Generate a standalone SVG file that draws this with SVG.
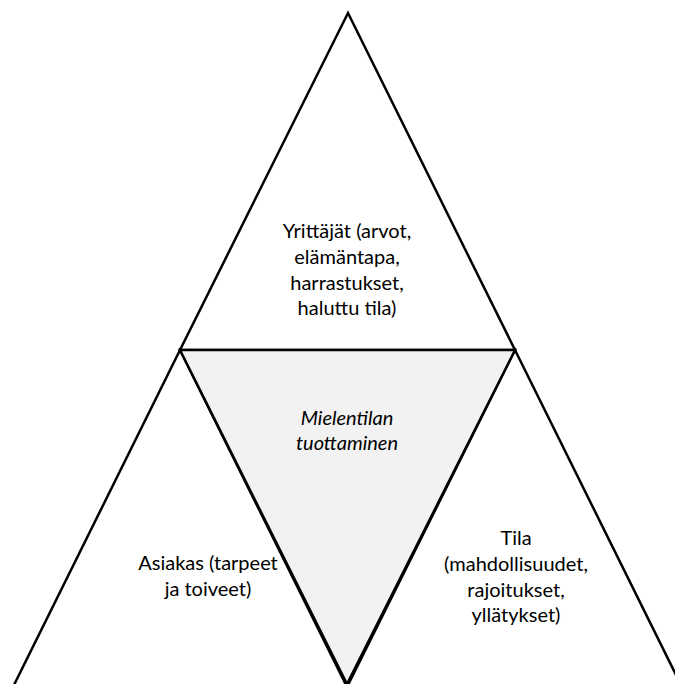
<svg xmlns="http://www.w3.org/2000/svg" width="675" height="684" viewBox="0 0 675 684">
<style>
.tri{stroke:#000;stroke-width:2.5;stroke-linejoin:miter}
.w{fill:#fff}
.g{fill:#f2f2f2}
text{font-family:Lato,"Open Sans","Liberation Sans",sans-serif;font-size:20px;fill:#000;text-anchor:middle}
.i{font-style:italic}
</style>
<rect width="675" height="684" fill="#fff"/>
<g id="top">
<polygon class="tri w" points="348,13 515,350 180,350"/>
<text x="347" y="238">Yrittäjät (arvot,</text>
<text x="347" y="264">elämäntapa,</text>
<text x="347" y="290">harrastukset,</text>
<text x="347" y="315">haluttu tila)</text>
</g>
<g id="left">
<polygon class="tri w" points="180,350 347,687 13,687"/>
<text x="208" y="570">Asiakas (tarpeet</text>
<text x="208" y="596">ja toiveet)</text>
</g>
<g id="right">
<polygon class="tri w" points="515,350 682,687 347,687"/>
<text x="516" y="545">Tila</text>
<text x="516" y="571">(mahdollisuudet,</text>
<text x="516" y="597">rajoitukset,</text>
<text x="516" y="622">yllätykset)</text>
</g>
<g id="center">
<polygon class="tri g" points="180,350 515,350 347,684"/>
<text class="i" x="347" y="425">Mielentilan</text>
<text class="i" x="347" y="450">tuottaminen</text>
</g>
<g id="connectors"/>
</svg>
